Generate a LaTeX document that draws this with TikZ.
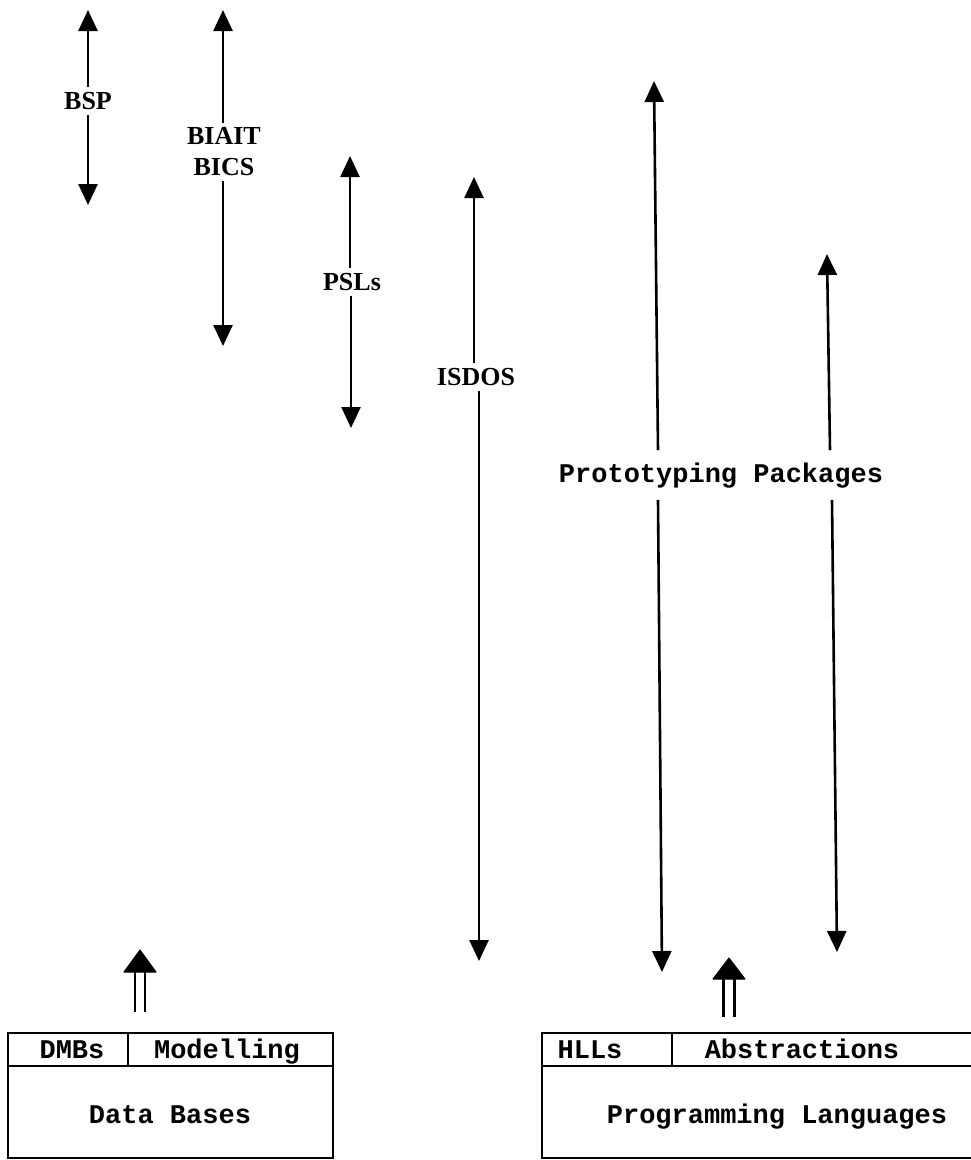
\documentclass[tikz,border=0pt]{standalone}
\usepackage{fontspec}
\setmainfont{Liberation Serif}
\newfontfamily\twfont{Liberation Mono}
\usetikzlibrary{arrows.meta}
\begin{document}
\begin{tikzpicture}[x=1pt,y=-1pt,
  lab/.style={font=\fontsize{26}{31}\selectfont\bfseries, inner sep=5pt, align=center},
  mono/.style={font=\twfont\fontsize{27}{30}\selectfont\bfseries, inner sep=0pt, anchor=base},
  arr/.style={line width=2.6pt, -{Triangle[width=19pt,length=21pt]}},
  boxline/.style={line width=2.2pt},
  dshaft/.style={line width=2.3pt},
  dhead/.style={fill=black, draw=black, line width=1pt, line join=round}]
\useasboundingbox (0,0) rectangle (971,1160);

% BSP
\coordinate (a1t) at (88,10);
\coordinate (a1b) at (88,205);
\node[lab] (bsp) at (88,101) {BSP};
\draw[arr] (bsp) -- (a1t);
\draw[arr] (bsp) -- (a1b);

% BIAIT / BICS
\coordinate (a2t) at (223,10);
\coordinate (a2b) at (223,346);
\node[lab] (biait) at (224,152) {BIAIT\\BICS};
\draw[arr] (biait.north -| a2t) -- (a2t);
\draw[arr] (biait.south -| a2b) -- (a2b);

% PSLs
\coordinate (a3t) at (350,156);
\coordinate (a3b) at (351,428);
\node[lab] (psls) at (352,282) {PSLs};
\draw[arr] (psls.north -| a3t) -- (a3t);
\draw[arr] (psls.south -| a3b) -- (a3b);

% ISDOS
\coordinate (a4t) at (474,177);
\coordinate (a4b) at (479,961);
\node[lab] (isdos) at (476,377) {ISDOS};
\draw[arr] (isdos.north -| a4t) -- (a4t);
\draw[arr] (isdos.south -| a4b) -- (a4b);

% Prototyping Packages
\node[mono, inner ysep=12pt] (pp) at (721,482) {Prototyping Packages};
\coordinate (a5t) at (654,81);
\coordinate (a5b) at (662,972);
\coordinate (a6t) at (827,254);
\coordinate (a6b) at (837,952);
\draw[arr] (pp.north -| 658,0) -- (a5t);
\draw[arr] (pp.south -| 658,0) -- (a5b);
\draw[arr] (pp.north -| 830,0) -- (a6t);
\draw[arr] (pp.south -| 832,0) -- (a6b);

% Data Bases box
\draw[boxline] (8,1033) rectangle (333,1158);
\draw[boxline] (8,1066) -- (333,1066);
\draw[boxline] (128,1033) -- (128,1066);
\node[mono] (dmbs) at (72,1058) {DMBs};
\node[mono] (model) at (227,1058) {Modelling};
\node[mono] (db) at (170,1123) {Data Bases};

% Programming Languages box
\draw[boxline] (975,1033) -- (542,1033) -- (542,1158) -- (975,1158);
\draw[boxline] (542,1066) -- (975,1066);
\draw[boxline] (672,1033) -- (672,1066);
\node[mono] (hlls) at (590,1058) {HLLs};
\node[mono] (abst) at (802,1058) {Abstractions};
\node[mono] (pl) at (777,1123) {Programming Languages};

% double arrows
\coordinate (d1b) at (140,1012);
\coordinate (d1h) at (140,972);
\coordinate (d1t) at (140,950);
\draw[dshaft] ([xshift=-5pt]d1b) -- ([xshift=-5pt]d1h);
\draw[dshaft] ([xshift=5pt]d1b) -- ([xshift=5pt]d1h);
\draw[dhead] ([xshift=-16pt]d1h) -- (d1t) -- ([xshift=16pt]d1h) -- cycle;

\coordinate (d2b) at (729,1017);
\coordinate (d2h) at (729,979);
\coordinate (d2t) at (729,958);
\draw[dshaft] ([xshift=-5.5pt]d2b) -- ([xshift=-5.5pt]d2h);
\draw[dshaft] ([xshift=5.5pt]d2b) -- ([xshift=5.5pt]d2h);
\draw[dhead] ([xshift=-16pt]d2h) -- (d2t) -- ([xshift=16pt]d2h) -- cycle;
\end{tikzpicture}
\end{document}
